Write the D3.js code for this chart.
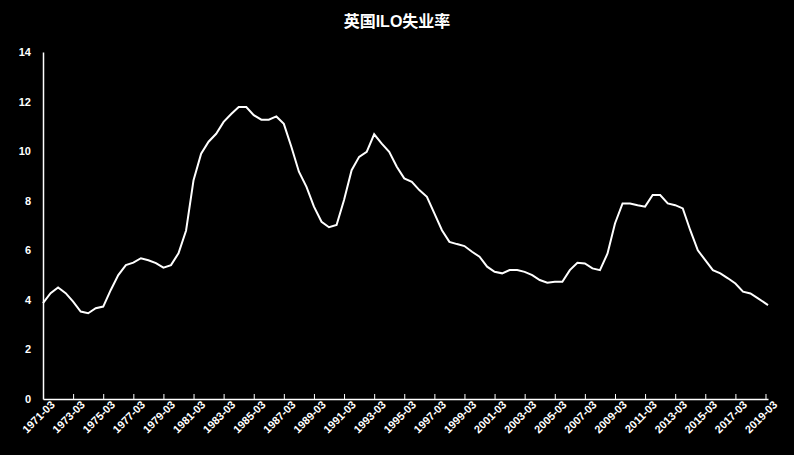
<!DOCTYPE html>
<html>
<head>
<meta charset="utf-8">
<script src="https://cdn.jsdelivr.net/npm/d3@7"></script>
<style>
  body { margin: 0; background: #000; }
  svg text { font-family: "Liberation Sans", "Noto Sans CJK SC", sans-serif; font-weight: bold; fill: #fff; }
</style>
</head>
<body>
<svg id="chart" width="794" height="455"></svg>
<script>
// half-yearly readings starting 1971-03
const startDate = '1971-03';
const values = [
  3.87, 4.27, 4.5, 4.27, 3.93, 3.53, 3.46, 3.66, 3.73, 4.4,
  5.0, 5.4, 5.5, 5.68, 5.6, 5.48, 5.3, 5.4, 5.88, 6.8,
  8.83, 9.9, 10.38, 10.7, 11.18, 11.5, 11.78, 11.78, 11.45, 11.27,
  11.27, 11.4, 11.1, 10.17, 9.17, 8.56, 7.76, 7.15, 6.93, 7.02,
  8.03, 9.23, 9.77, 9.97, 10.68, 10.3, 9.97, 9.37, 8.9, 8.76,
  8.43, 8.16, 7.49, 6.81, 6.34, 6.25, 6.17, 5.94, 5.74, 5.34,
  5.13, 5.07, 5.2, 5.2, 5.13, 5.0, 4.8, 4.69, 4.73, 4.73,
  5.2, 5.5, 5.47, 5.27, 5.2, 5.87, 7.08, 7.89, 7.89, 7.82,
  7.76, 8.23, 8.23, 7.89, 7.82, 7.69, 6.81, 6.0, 5.6, 5.2,
  5.07, 4.87, 4.66, 4.33, 4.26, 4.06, 3.86
];
const lastValue = 3.79; // 2019-05
const yTicks = [0, 2, 4, 6, 8, 10, 12, 14];
const title = '英国ILO失业率';

const parse = d3.timeParse('%Y-%m');
const t0 = parse(startDate);
const data = values.map((v, i) => ({ date: d3.timeMonth.offset(t0, i * 6), value: v }));
data.push({ date: parse('2019-05'), value: lastValue });

const svg = d3.select('#chart');
const margin = { left: 43, right: 26, top: 52, bottom: 56 };
const W = 794, H = 455;

const x = d3.scaleTime()
  .domain([t0, parse('2019-05')])
  .range([margin.left, W - margin.right]);
const y = d3.scaleLinear().domain([0, 14]).range([H - margin.bottom, margin.top]);

svg.append('text')
  .attr('x', W / 2).attr('y', 27)
  .attr('text-anchor', 'middle')
  .style('font-size', '16px')
  .text(title);

// y axis
const yAxis = svg.append('g')
  .attr('transform', `translate(${margin.left},0)`)
  .call(d3.axisLeft(y).tickValues(yTicks).tickSize(0).tickPadding(12));
yAxis.select('.domain').attr('stroke', '#fff').attr('stroke-width', 1.5);
yAxis.selectAll('text').style('font-size', '11px');

// x axis
const xTicks = d3.range(0, 25).map(i => d3.timeMonth.offset(t0, i * 24));
const xAxis = svg.append('g')
  .attr('transform', `translate(0,${y(0)})`)
  .call(d3.axisBottom(x).tickValues(xTicks).tickFormat(d3.timeFormat('%Y-%m')).tickSizeInner(-5).tickSizeOuter(0).tickPadding(8));
xAxis.select('.domain').attr('stroke', '#fff').attr('stroke-width', 1.5);
xAxis.selectAll('.tick line').attr('stroke', '#fff');
xAxis.selectAll('text')
  .style('font-size', '11px')
  .attr('text-anchor', 'end')
  .attr('dx', '4').attr('dy', '5')
  .attr('transform', 'rotate(-45)');

svg.append('path')
  .datum(data)
  .attr('fill', 'none')
  .attr('stroke', '#fff')
  .attr('stroke-width', 2)
  .attr('d', d3.line().x(d => x(d.date)).y(d => y(d.value)));
</script>
</body>
</html>
